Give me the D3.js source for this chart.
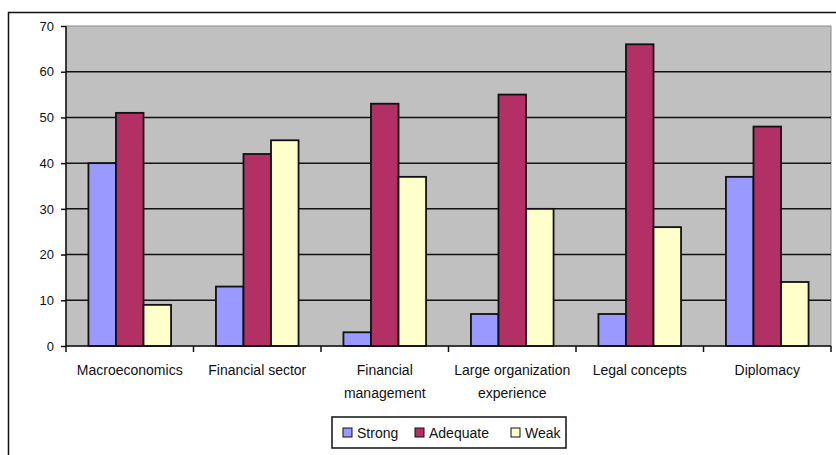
<!DOCTYPE html>
<html>
<head>
<meta charset="utf-8">
<script src="https://cdn.jsdelivr.net/npm/d3@7"></script>
<style>
  body { margin: 0; background: #fff; }
  svg text { font-family: "Liberation Sans", Arial, sans-serif; fill: #111; }
</style>
</head>
<body>
<div id="chart"></div>
<script>
// Chart data
const categories = ['Macroeconomics', 'Financial sector', 'Financial management',
  'Large organization experience', 'Legal concepts', 'Diplomacy'];
const categoryLines = [['Macroeconomics'], ['Financial sector'], ['Financial', 'management'],
  ['Large organization', 'experience'], ['Legal concepts'], ['Diplomacy']];
const seriesNames = ['Strong', 'Adequate', 'Weak'];
const strongValues = [40, 13, 3, 7, 7, 37];
const adequateValues = [51, 42, 53, 55, 66, 48];
const weakValues = [9, 45, 37, 30, 26, 14];
const yTicks = [0, 10, 20, 30, 40, 50, 60, 70];

const colors = { Strong: '#9999ff', Adequate: '#b33064', Weak: '#ffffcc' };
const width = 836, height = 455;
const plot = { left: 66, top: 26, right: 831, bottom: 346 };

const svg = d3.select('#chart').append('svg')
  .attr('width', width).attr('height', height);

// outer chart frame (extends past the right/bottom edge)
svg.append('rect')
  .attr('x', 8.5).attr('y', 12.5)
  .attr('width', 840).attr('height', 460)
  .attr('fill', '#fff').attr('stroke', '#111').attr('stroke-width', 1.5);

const y = d3.scaleLinear().domain([0, 70]).range([plot.bottom, plot.top]);
const x0 = d3.scaleBand().domain(categories).range([plot.left, plot.right]);
const inset = x0.bandwidth() * 0.176;
const x1 = d3.scaleBand().domain(seriesNames).range([inset, x0.bandwidth() - inset]);

// plot area
svg.append('rect')
  .attr('x', plot.left).attr('y', plot.top)
  .attr('width', plot.right - plot.left).attr('height', plot.bottom - plot.top)
  .attr('fill', '#c0c0c0').attr('stroke', '#8a8a8a').attr('stroke-width', 1);

// gridlines
svg.append('g').selectAll('line')
  .data(yTicks.filter(t => t > 0 && t < 70))
  .join('line')
  .attr('x1', plot.left).attr('x2', plot.right)
  .attr('y1', d => y(d)).attr('y2', d => y(d))
  .attr('stroke', '#111').attr('stroke-width', 1.5);

// bars
const rows = categories.map((c, i) => ({
  cat: c,
  vals: [strongValues[i], adequateValues[i], weakValues[i]]
}));
const groups = svg.append('g').selectAll('g')
  .data(rows)
  .join('g')
  .attr('transform', d => `translate(${x0(d.cat)},0)`);
groups.selectAll('rect')
  .data(d => d.vals.map((v, j) => ({ s: seriesNames[j], v })))
  .join('rect')
  .attr('x', d => x1(d.s))
  .attr('y', d => y(d.v))
  .attr('width', x1.bandwidth())
  .attr('height', d => y(0) - y(d.v))
  .attr('fill', d => colors[d.s])
  .attr('stroke', '#111').attr('stroke-width', 1.8);

// y axis
const yAxis = svg.append('g')
  .attr('transform', `translate(${plot.left},0)`)
  .call(d3.axisLeft(y).tickValues(yTicks).tickSize(5).tickPadding(7));
yAxis.selectAll('line, path').attr('stroke', '#111').attr('stroke-width', 1.5);
yAxis.select('.domain').attr('d', `M0,${plot.top}V${plot.bottom}`);
yAxis.selectAll('text').style('font-size', '13px')
  .style('font-family', '"Liberation Sans", Arial, sans-serif').attr('fill', '#111');

// x axis with ticks between categories
const xAxis = svg.append('g').attr('transform', `translate(0,${plot.bottom})`);
xAxis.append('line')
  .attr('x1', plot.left).attr('x2', plot.right)
  .attr('stroke', '#111').attr('stroke-width', 1.5);
xAxis.selectAll('.tk')
  .data(categories.map(c => x0(c)).concat([plot.right]))
  .join('line')
  .attr('class', 'tk')
  .attr('x1', d => d).attr('x2', d => d)
  .attr('y1', 0).attr('y2', 6)
  .attr('stroke', '#111').attr('stroke-width', 1.5);
const lbl = xAxis.selectAll('text')
  .data(categories)
  .join('text')
  .attr('text-anchor', 'middle')
  .style('font-size', '14px');
lbl.selectAll('tspan')
  .data((d, i) => categoryLines[i].map(t => ({ t, cat: d })))
  .join('tspan')
  .attr('x', d => x0(d.cat) + x0.bandwidth() / 2)
  .attr('y', (d, k) => 29 + k * 23)
  .text(d => d.t);

// legend
const legend = svg.append('g').attr('transform', 'translate(332,417)');
legend.append('rect')
  .attr('width', 234).attr('height', 31)
  .attr('fill', '#fff').attr('stroke', '#111').attr('stroke-width', 1.5);
const legendX = [11, 83, 179];
const item = legend.selectAll('g.item')
  .data(seriesNames)
  .join('g')
  .attr('class', 'item')
  .attr('transform', (d, i) => `translate(${legendX[i]},11)`);
item.append('rect')
  .attr('width', 9).attr('height', 9)
  .attr('fill', d => colors[d]).attr('stroke', '#111').attr('stroke-width', 1);
item.append('text')
  .attr('x', 14).attr('y', 9.5)
  .style('font-size', '14px')
  .text(d => d);
</script>
</body>
</html>
